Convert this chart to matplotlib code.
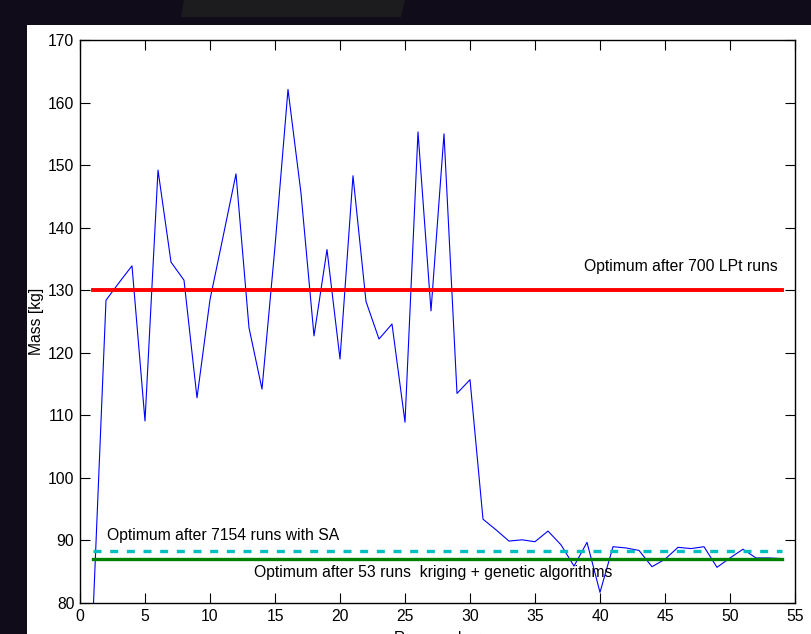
import numpy as np
import matplotlib
matplotlib.use('Agg')
import matplotlib.pyplot as plt
from matplotlib.patches import Rectangle, Polygon

# mass for each run
runs = list(range(1, 55))
mass = [78.0, 128.4, 131.2, 133.9, 109.1, 149.2, 134.5, 131.6, 112.8, 128.5,
        138.5, 148.6, 124.0, 114.2, 137.0, 162.1, 145.5, 122.7, 136.5, 119.0,
        148.3, 128.2, 122.2, 124.6, 108.9, 155.3, 126.7, 155.0, 113.5, 115.7,
        93.4, 91.7, 89.9, 90.1, 89.8, 91.5, 89.3, 85.9, 89.7, 81.7,
        89.0, 88.8, 88.4, 85.8, 87.0, 88.9, 88.7, 89.0, 85.7, 87.2,
        88.6, 87.2, 87.2, 87.1]

# reference optima
opt_lpt = 130.0
opt_sa = 88.3
opt_kriging = 87.1
opt_span = [1, 54]

labels = ['Optimum after 700 LPt runs',
          'Optimum after 7154 runs with SA',
          'Optimum after 53 runs  kriging + genetic algorithms']

plt.rcParams['font.family'] = ['Liberation Sans', 'DejaVu Sans']
plt.rcParams['font.size'] = 11.3

W, H = 811, 634
fig = plt.figure(figsize=(W / 100, H / 100), dpi=100, facecolor='#100c1a')

# white sheet and the dark tab behind the chart
fig.add_artist(Rectangle((27 / W, 0), (W - 27) / W, (H - 25) / H,
                         transform=fig.transFigure, facecolor='white',
                         edgecolor='none', zorder=0))
fig.add_artist(Polygon([(184 / W, 1), (405 / W, 1), (401 / W, 1 - 17 / H), (181 / W, 1 - 17 / H)],
                       closed=True, transform=fig.transFigure,
                       facecolor='#1c1c1e', edgecolor='none', zorder=0))

ax = fig.add_axes([80 / W, 1 - 603 / H, (795 - 80) / W, (603 - 40) / H])
ax.set_facecolor('white')

ax.plot(runs, mass, color='#0000ff', lw=0.8)
ax.plot(opt_span, [opt_lpt, opt_lpt], color='#ff0000', lw=2.8)
ax.plot(opt_span, [opt_sa, opt_sa], color='#00bfbf', lw=2.4, linestyle=(0, (2.4, 2.6)))
ax.plot(opt_span, [opt_kriging, opt_kriging], color='#008000', lw=2.4)

ax.text(38.8, 133.0, labels[0], ha='left', va='baseline')
ax.text(2.08, 90.0, labels[1], ha='left', va='baseline')
ax.text(13.4, 84.1, labels[2], ha='left', va='baseline')

ax.set_xlim(0, 55)
ax.set_ylim(80, 170)
ax.set_xticks(np.arange(0, 56, 5))
ax.set_yticks(np.arange(80, 171, 10))
ax.tick_params(direction='in', length=7, width=0.8, top=True, right=True, pad=4)
for s in ax.spines.values():
    s.set_linewidth(1.0)

ax.set_xlabel('Run number')
ax.set_ylabel('Mass [kg]')
ax.xaxis.set_label_coords(0.5, -0.05)
ax.yaxis.set_label_coords(-0.051, 0.5)

fig.savefig('out.png', dpi=100, facecolor=fig.get_facecolor())
